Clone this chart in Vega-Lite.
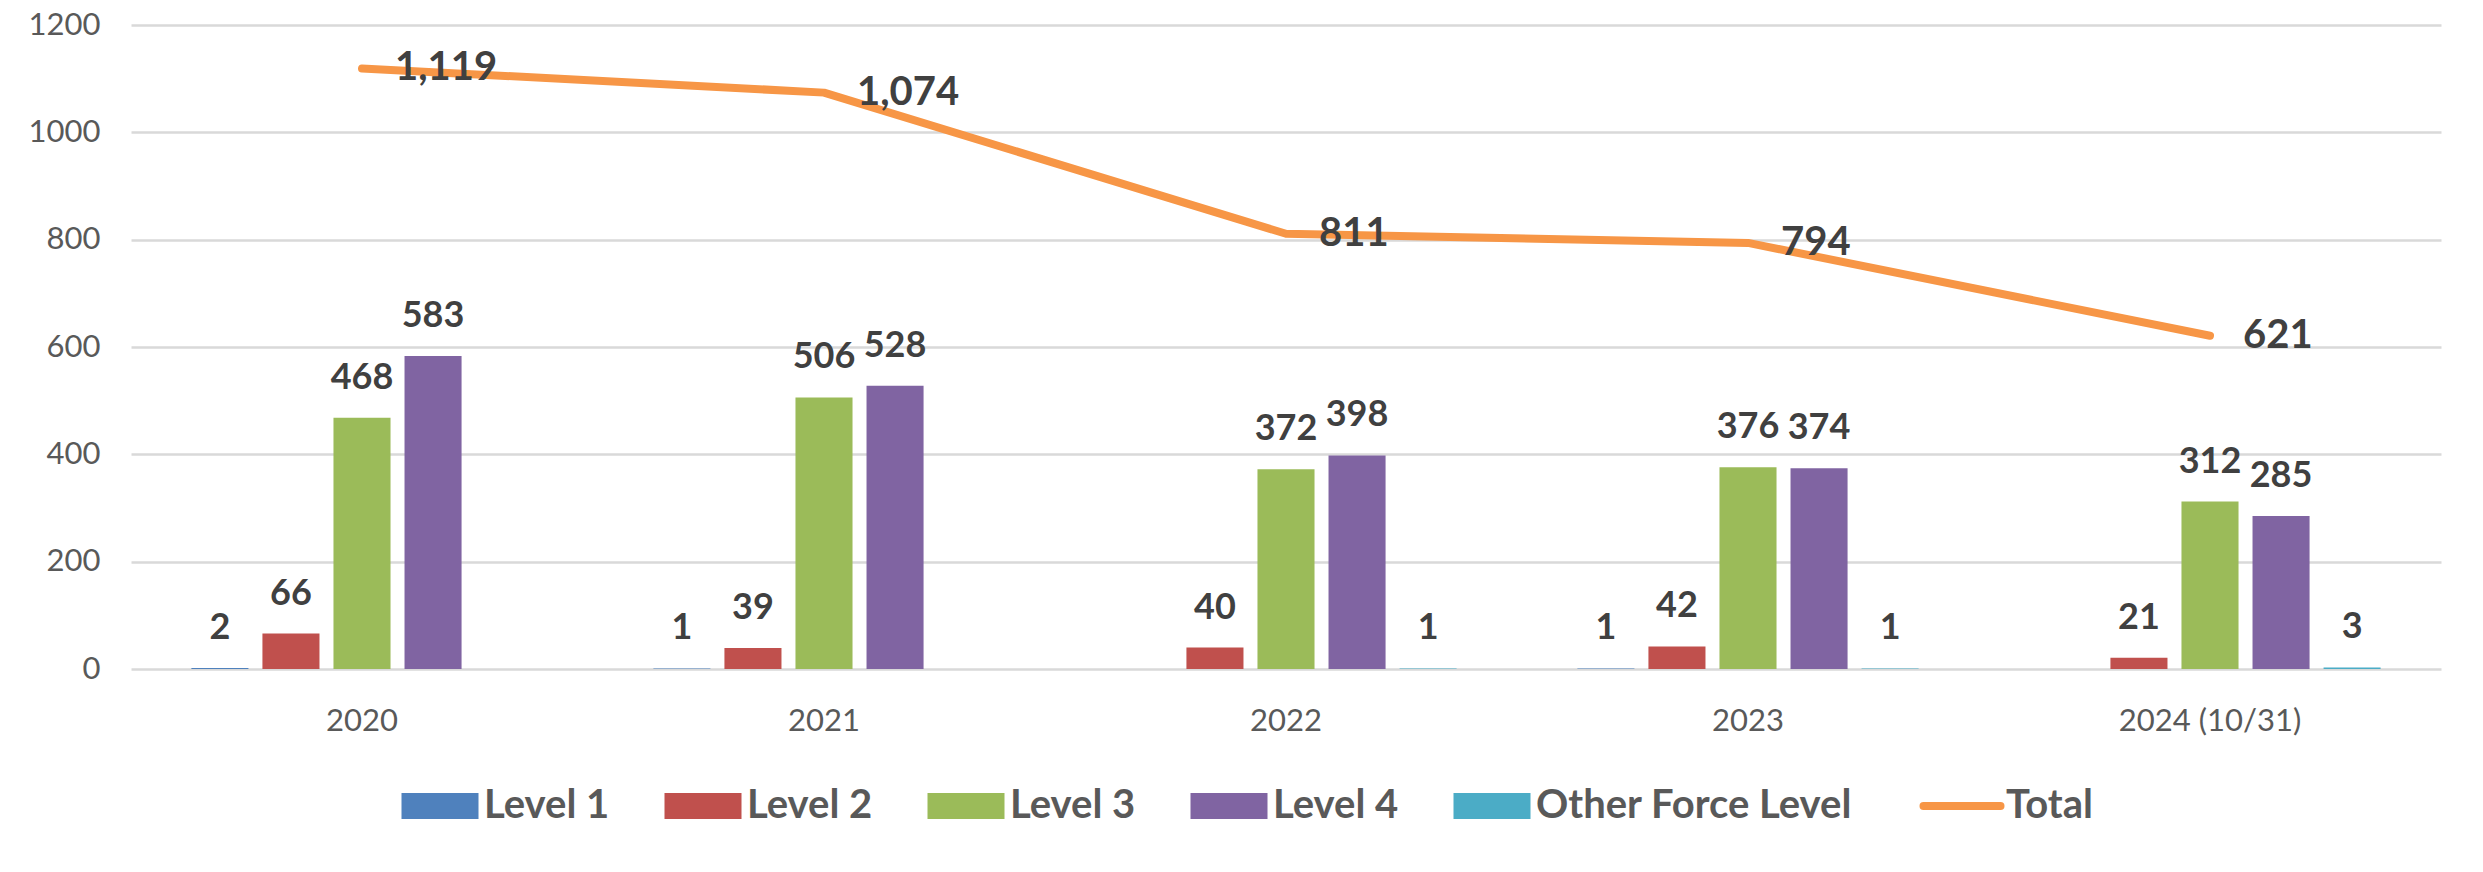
{
  "$schema": "https://vega.github.io/schema/vega-lite/v6.json",
  "autosize": {"type": "none"},
  "padding": {"left": 131, "top": 25, "right": 42, "bottom": 203},
  "width": 2310,
  "height": 644,
  "background": "#FFFFFF",
  "config": {
    "view": {"stroke": null},
    "font": "Lato",
    "axis": {"labelFont": "Lato"}
  },
  "datasets": {
    "levels": [
      {"year": "2020", "level": "Level 1", "count": 2},
      {"year": "2020", "level": "Level 2", "count": 66},
      {"year": "2020", "level": "Level 3", "count": 468},
      {"year": "2020", "level": "Level 4", "count": 583},
      {"year": "2021", "level": "Level 1", "count": 1},
      {"year": "2021", "level": "Level 2", "count": 39},
      {"year": "2021", "level": "Level 3", "count": 506},
      {"year": "2021", "level": "Level 4", "count": 528},
      {"year": "2022", "level": "Level 2", "count": 40},
      {"year": "2022", "level": "Level 3", "count": 372},
      {"year": "2022", "level": "Level 4", "count": 398},
      {"year": "2022", "level": "Other Force Level", "count": 1},
      {"year": "2023", "level": "Level 1", "count": 1},
      {"year": "2023", "level": "Level 2", "count": 42},
      {"year": "2023", "level": "Level 3", "count": 376},
      {"year": "2023", "level": "Level 4", "count": 374},
      {"year": "2023", "level": "Other Force Level", "count": 1},
      {"year": "2024 (10/31)", "level": "Level 2", "count": 21},
      {"year": "2024 (10/31)", "level": "Level 3", "count": 312},
      {"year": "2024 (10/31)", "level": "Level 4", "count": 285},
      {"year": "2024 (10/31)", "level": "Other Force Level", "count": 3}
    ],
    "totals": [
      {"year": "2020", "level": "Total", "count": 1119},
      {"year": "2021", "level": "Total", "count": 1074},
      {"year": "2022", "level": "Total", "count": 811},
      {"year": "2023", "level": "Total", "count": 794},
      {"year": "2024 (10/31)", "level": "Total", "count": 621}
    ]
  },
  "encoding": {
    "x": {
      "field": "year",
      "type": "nominal",
      "sort": ["2020", "2021", "2022", "2023", "2024 (10/31)"],
      "scale": {"paddingInner": 0, "paddingOuter": 0},
      "axis": {
        "title": null,
        "labelAngle": 0,
        "domain": false,
        "ticks": false,
        "labelFont": "Lato",
        "labelFontSize": 31,
        "labelColor": "#595959",
        "labelPadding": 37,
        "labelLimit": 1000
      }
    },
    "y": {
      "field": "count",
      "type": "quantitative",
      "scale": {"domain": [0, 1200], "nice": false},
      "axis": {
        "title": null,
        "values": [0, 200, 400, 600, 800, 1000, 1200],
        "domain": false,
        "ticks": false,
        "grid": true,
        "gridColor": "#D9D9D9",
        "gridWidth": 2.5,
        "labelFont": "Lato",
        "labelFontSize": 31,
        "labelColor": "#595959",
        "labelPadding": 31,
        "format": "d"
      }
    },
    "color": {
      "field": "level",
      "type": "nominal",
      "scale": {
        "domain": ["Level 1", "Level 2", "Level 3", "Level 4", "Other Force Level", "Total"],
        "range": ["#4F81BD", "#C0504D", "#9BBB59", "#8064A2", "#4BACC6", "#F79646"]
      },
      "legend": {
        "orient": "none",
        "legendX": 289,
        "legendY": 761,
        "direction": "horizontal",
        "title": null,
        "symbolSize": 5929,
        "labelFont": "Lato",
        "labelFontWeight": "bold",
        "labelFontSize": 40,
        "labelColor": "#595959",
        "labelOffset": 24,
        "columnPadding": 54,
        "labelLimit": 600,
        "encode": {
          "symbols": {
            "update": {
              "shape": {"signal": "datum.value === 'Total' ? 'stroke' : 'M-1,-0.34H1V0.34H-1Z'"},
              "fill": {"scale": "color", "field": "value"},
              "fillOpacity": {"value": 1},
              "stroke": {"signal": "datum.value === 'Total' ? '#F79646' : 'transparent'"},
              "strokeWidth": {"signal": "datum.value === 'Total' ? 8 : 0"},
              "strokeCap": {"value": "round"},
              "opacity": {"value": 1}
            }
          }
        }
      }
    }
  },
  "layer": [
    {
      "data": {"name": "levels"},
      "mark": {"type": "bar"},
      "encoding": {
        "xOffset": {
          "field": "level",
          "type": "nominal",
          "scale": {
            "domain": ["Level 1", "Level 2", "Level 3", "Level 4", "Other Force Level"],
            "paddingInner": 0.197,
            "paddingOuter": 0.85
          }
        }
      }
    },
    {
      "data": {"name": "levels"},
      "mark": {
        "type": "text",
        "font": "Lato",
        "fontWeight": "bold",
        "fontSize": 36,
        "color": "#404040",
        "baseline": "alphabetic",
        "align": "center",
        "dy": -29
      },
      "encoding": {
        "xOffset": {"field": "level", "type": "nominal"},
        "text": {"field": "count", "type": "quantitative", "format": ","},
        "color": {"value": "#404040"}
      }
    },
    {
      "data": {"name": "totals"},
      "mark": {"type": "line", "strokeWidth": 8, "strokeCap": "round", "strokeJoin": "round"},
      "encoding": {}
    },
    {
      "data": {"name": "totals"},
      "mark": {
        "type": "text",
        "font": "Lato",
        "fontWeight": "bold",
        "fontSize": 40,
        "baseline": "middle",
        "align": "left",
        "dx": 33
      },
      "encoding": {
        "text": {"field": "count", "type": "quantitative", "format": ","},
        "color": {"value": "#404040"}
      }
    }
  ]
}
